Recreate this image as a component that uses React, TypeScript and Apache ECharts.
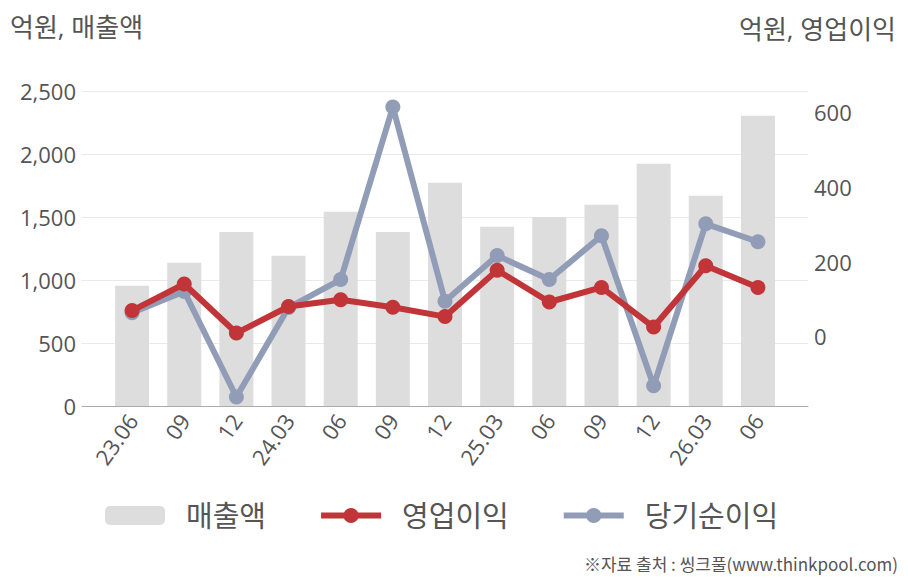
import React, { useEffect, useRef } from "react";
import * as echarts from "echarts";

const categories = ["23.06", "09", "12", "24.03", "06", "09", "12", "25.03", "06", "09", "12", "26.03", "06"];
const sales = [955, 1137, 1381, 1193, 1542, 1381, 1772, 1423, 1500, 1598, 1923, 1669, 2304];
const operatingProfit = [69, 140, 9, 80, 98, 78, 53, 177, 92, 131, 25, 189, 131];
const netIncome = [63, 120, -162, 77, 152, 613, 94, 216, 152, 269, -132, 301, 253];
const leftTicks = { min: 0, max: 2500, interval: 500 };
const rightRange = { min: -186, max: 656 };

const FONT = "'Open Sans', 'Noto Sans CJK KR', sans-serif";

export default function App() {
  const ref = useRef<HTMLDivElement>(null);
  useEffect(() => {
    if (!ref.current) return;
    const chart = echarts.init(ref.current, undefined, { renderer: "svg" });
    chart.setOption({
      animation: false,
      backgroundColor: "#ffffff",
      textStyle: { fontFamily: FONT },
      graphic: [
        {
          type: "text",
          left: 10,
          top: 14,
          style: { text: "억원, 매출액", fontSize: 26, fill: "#555", fontFamily: FONT },
        },
        {
          type: "text",
          right: 12,
          top: 16,
          style: { text: "억원, 영업이익", fontSize: 26, fill: "#555", fontFamily: FONT },
        },
        {
          type: "text",
          right: 10,
          top: 555,
          style: { text: "※자료 출처 : 씽크풀(www.thinkpool.com)", fontSize: 17, fill: "#555", fontFamily: "'Noto Sans CJK KR', sans-serif" },
        },
      ],
      legend: {
        left: 100,
        top: 496,
        itemWidth: 60,
        itemHeight: 19,
        itemGap: 52,
        lineStyle: { width: 6 },
        textStyle: { fontSize: 29, color: "#555", fontFamily: FONT, padding: [0, 0, 0, 16] },
        data: ["매출액", "영업이익", "당기순이익"],
      },
      grid: [
        { left: 82, right: 100, top: 91, bottom: 174 },
        { left: 106, right: 124, top: 91, bottom: 174 },
      ],
      xAxis: [
        {
          type: "value",
          gridIndex: 0,
          min: 0,
          max: 1,
          axisLine: { show: true, onZero: false, lineStyle: { color: "#aaaaaa", width: 1 } },
          axisTick: { show: false },
          axisLabel: { show: false },
          splitLine: { show: false },
        },
        {
          type: "category",
          gridIndex: 1,
          data: categories,
          axisLine: { show: false },
          axisTick: { show: false },
          axisLabel: { rotate: 55, fontSize: 22, color: "#555", margin: 10, fontFamily: FONT },
        },
      ],
      yAxis: [
        {
          type: "value",
          gridIndex: 0,
          ...leftTicks,
          axisLine: { show: false },
          axisTick: { show: false },
          axisLabel: {
            fontSize: 22,
            color: "#555",
            margin: 6,
            fontFamily: FONT,
            formatter: (v: number) => v.toLocaleString("en-US"),
          },
          splitLine: { lineStyle: { color: "#e9e9e9" } },
        },
        {
          type: "value",
          gridIndex: 0,
          position: "right",
          ...rightRange,
          axisLine: { show: false },
          axisTick: { show: false },
          splitLine: { show: false },
          axisLabel: {
            fontSize: 22,
            color: "#555",
            margin: 6,
            fontFamily: FONT,
            formatter: (v: number) => (Math.round(v) % 200 === 0 && v >= 0 ? String(Math.round(v)) : ""),
          },
        },
        {
          type: "value",
          gridIndex: 1,
          ...leftTicks,
          show: false,
        },
        {
          type: "value",
          gridIndex: 1,
          position: "right",
          ...rightRange,
          show: false,
        },
      ],
      series: [
        {
          name: "매출액",
          type: "bar",
          xAxisIndex: 1,
          yAxisIndex: 2,
          data: sales,
          barWidth: 34,
          itemStyle: { color: "#dddddd" },
        },
        {
          name: "영업이익",
          type: "line",
          xAxisIndex: 1,
          yAxisIndex: 3,
          data: operatingProfit,
          symbol: "circle",
          symbolSize: 15,
          lineStyle: { width: 6, color: "#c13538" },
          itemStyle: { color: "#c13538" },
          z: 4,
        },
        {
          name: "당기순이익",
          type: "line",
          xAxisIndex: 1,
          yAxisIndex: 3,
          data: netIncome,
          symbol: "circle",
          symbolSize: 15,
          lineStyle: { width: 6, color: "#919db7" },
          itemStyle: { color: "#919db7" },
          z: 3,
        },
      ],
    });
    return () => chart.dispose();
  }, []);
  return (
    <div
      ref={ref}
      style={{ position: "fixed", left: 0, top: 0, width: 908, height: 580, background: "#fff" }}
    />
  );
}
